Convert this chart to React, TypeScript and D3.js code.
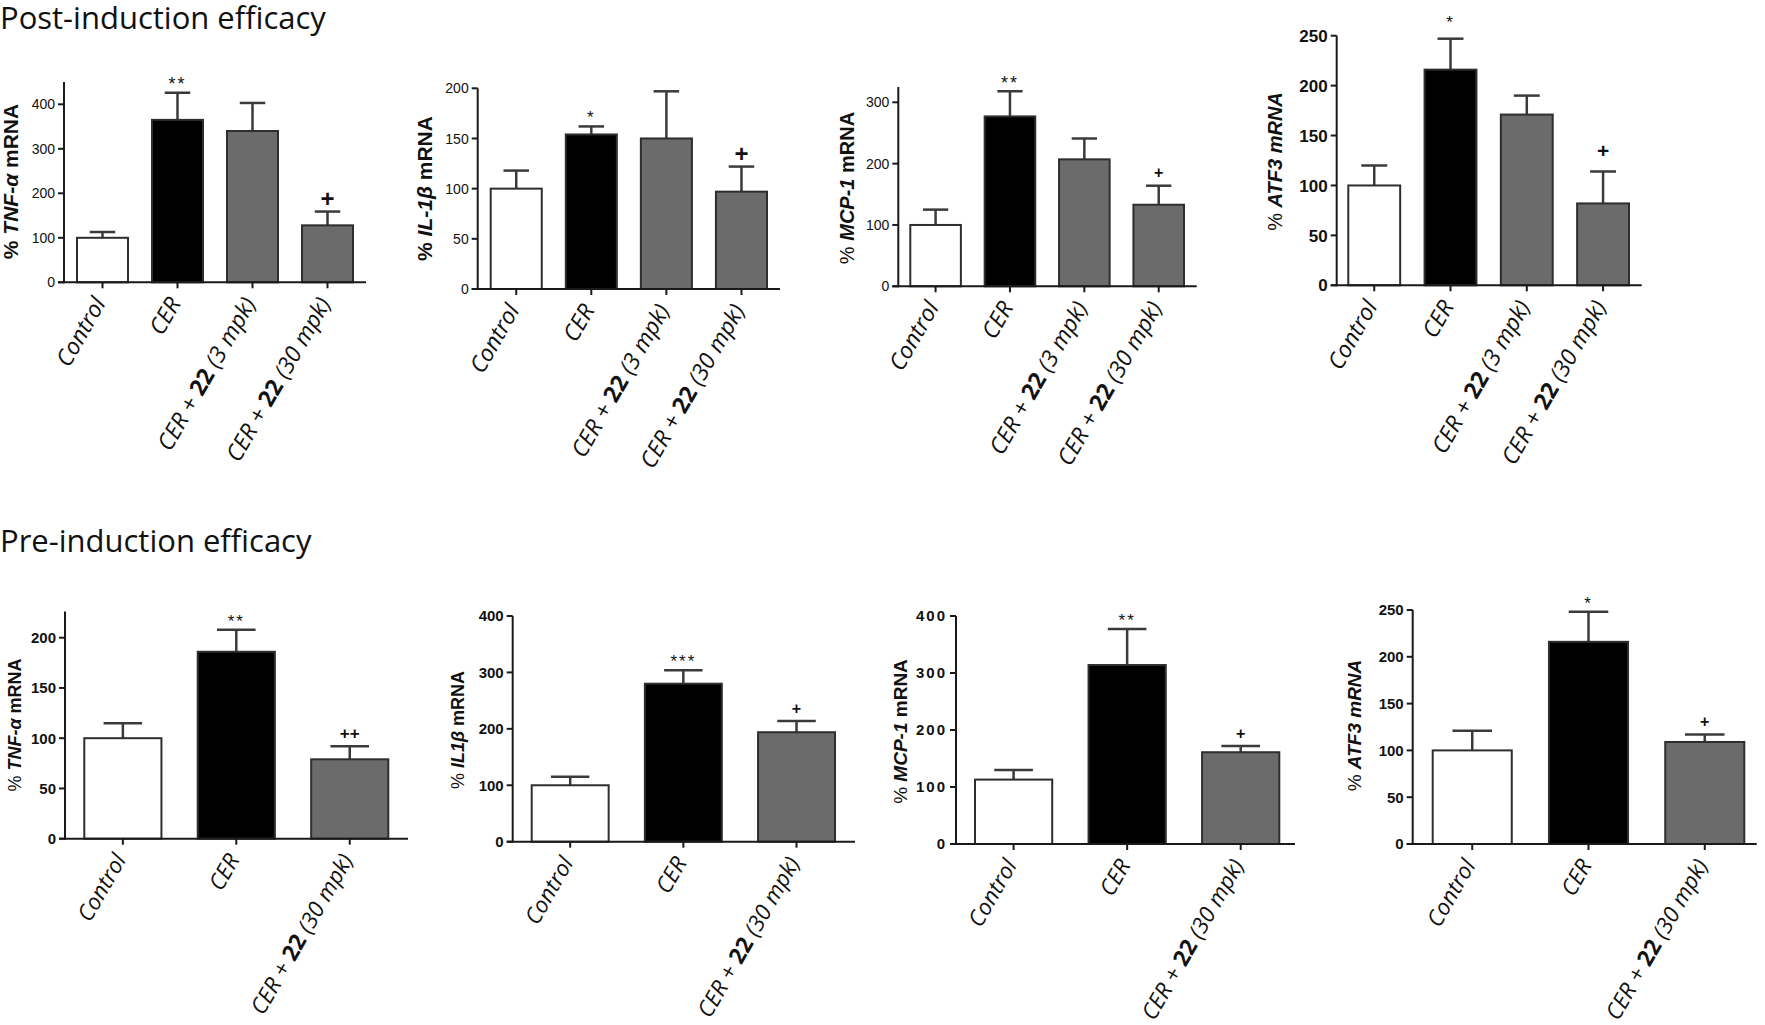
import React from "react";
import * as d3 from "d3";

// ---------- data ----------
const postGroups = ["Control", "CER", "CER + 22 (3 mpk)", "CER + 22 (30 mpk)"];
const preGroups = ["Control", "CER", "CER + 22 (30 mpk)"];

const postTnfMean = [100, 365, 340, 128];
const postTnfSem = [13, 61, 63, 31];
const postTnfSig = ["", "**", "", "+"];
const postTnfTicks = [0, 100, 200, 300, 400];

const postIl1bMean = [100, 154, 150, 97];
const postIl1bSem = [18, 8, 47, 25];
const postIl1bSig = ["", "*", "", "+"];
const postIl1bTicks = [0, 50, 100, 150, 200];

const postMcp1Mean = [100, 277, 207, 133];
const postMcp1Sem = [25, 41, 34, 31];
const postMcp1Sig = ["", "**", "", "+"];
const postMcp1Ticks = [0, 100, 200, 300];

const postAtf3Mean = [100, 216, 171, 82];
const postAtf3Sem = [20, 31, 19, 32];
const postAtf3Sig = ["", "*", "", "+"];
const postAtf3Ticks = [0, 50, 100, 150, 200, 250];

const preTnfMean = [100, 186, 79];
const preTnfSem = [15, 22, 13];
const preTnfSig = ["", "**", "++"];
const preTnfTicks = [0, 50, 100, 150, 200];

const preIl1bMean = [100, 280, 194];
const preIl1bSem = [15, 24, 20];
const preIl1bSig = ["", "***", "+"];
const preIl1bTicks = [0, 100, 200, 300, 400];

const preMcp1Mean = [113, 314, 161];
const preMcp1Sem = [17, 63, 11];
const preMcp1Sig = ["", "**", "+"];
const preMcp1Ticks = [0, 100, 200, 300, 400];

const preAtf3Mean = [100, 216, 109];
const preAtf3Sem = [21, 32, 8];
const preAtf3Sig = ["", "*", "+"];
const preAtf3Ticks = [0, 50, 100, 150, 200, 250];

const titles = ["Post-induction efficacy", "Pre-induction efficacy"];

type Seg = { t: string; b?: boolean; i?: boolean };
const lblTnfPost: Seg[] = [{ t: "% ", b: true }, { t: "TNF-α", b: true, i: true }, { t: " mRNA", b: true }];
const lblIl1bPost: Seg[] = [{ t: "% ", b: true }, { t: "IL-1β", b: true, i: true }, { t: " mRNA", b: true }];
const lblMcp1Post: Seg[] = [{ t: "%  " }, { t: "MCP-1", b: true, i: true }, { t: " mRNA", b: true }];
const lblAtf3Post: Seg[] = [{ t: "% " }, { t: "ATF3 mRNA", b: true, i: true }];
const lblTnfPre: Seg[] = [{ t: "%  " }, { t: "TNF-α", b: true, i: true }, { t: " mRNA", b: true }];
const lblIl1bPre: Seg[] = [{ t: "%  " }, { t: "IL1β", b: true, i: true }, { t: " mRNA", b: true }];
const lblMcp1Pre: Seg[] = [{ t: "%  " }, { t: "MCP-1", b: true, i: true }, { t: " mRNA", b: true }];
const lblAtf3Pre: Seg[] = [{ t: "% " }, { t: "ATF3 mRNA", b: true, i: true }];

// ---------- layout / style ----------
const fillsPost = ["#ffffff", "#000000", "#6b6b6b", "#6b6b6b"];
const fillsPre = ["#ffffff", "#000000", "#6b6b6b"];

const panels = [
  { groups: postGroups, mean: postTnfMean, sem: postTnfSem, sig: postTnfSig, ticks: postTnfTicks, label: lblTnfPost, fills: fillsPost,
    x0: 64, x1: 366, y0: 282.3, refV: 400, refY: 104.3, topV: 450, padL: 13, padR: 13, tickFs: 14, tickBold: false, tickLs: 0,
    labelCx: 10, labelCy: 181.5, labelFs: 21, plusFs: 24, starFs: 18, sigGap: 13, xlFs: 23 },
  { groups: postGroups, mean: postIl1bMean, sem: postIl1bSem, sig: postIl1bSig, ticks: postIl1bTicks, label: lblIl1bPost, fills: fillsPost,
    x0: 477.7, x1: 780, y0: 289, refV: 200, refY: 88.3, topV: 200, padL: 13, padR: 13, tickFs: 14, tickBold: false, tickLs: 0,
    labelCx: 424, labelCy: 188.5, labelFs: 21, plusFs: 24, starFs: 17, sigGap: 13, xlFs: 23 },
  { groups: postGroups, mean: postMcp1Mean, sem: postMcp1Sem, sig: postMcp1Sig, ticks: postMcp1Ticks, label: lblMcp1Post, fills: fillsPost,
    x0: 898.3, x1: 1196.7, y0: 286.3, refV: 300, refY: 102.3, topV: 325, padL: 12, padR: 12.7, tickFs: 14, tickBold: false, tickLs: 0,
    labelCx: 847, labelCy: 188, labelFs: 20, plusFs: 16, starFs: 18, sigGap: 13, xlFs: 23 },
  { groups: postGroups, mean: postAtf3Mean, sem: postAtf3Sem, sig: postAtf3Sig, ticks: postAtf3Ticks, label: lblAtf3Post, fills: fillsPost,
    x0: 1336.7, x1: 1641.7, y0: 285.3, refV: 250, refY: 35.7, topV: 250, padL: 11.6, padR: 12.7, tickFs: 17, tickBold: true, tickLs: 0,
    labelCx: 1275, labelCy: 161.5, labelFs: 20, plusFs: 21, starFs: 17, sigGap: 21, xlFs: 23 },
  { groups: preGroups, mean: preTnfMean, sem: preTnfSem, sig: preTnfSig, ticks: preTnfTicks, label: lblTnfPre, fills: fillsPre,
    x0: 65, x1: 408, y0: 838.7, refV: 200, refY: 637.7, topV: 226, padL: 19.3, padR: 19.7, tickFs: 15, tickBold: true, tickLs: 0,
    labelCx: 14.5, labelCy: 725, labelFs: 18, plusFs: 17, starFs: 17, sigGap: 13, xlFs: 22.5 },
  { groups: preGroups, mean: preIl1bMean, sem: preIl1bSem, sig: preIl1bSig, ticks: preIl1bTicks, label: lblIl1bPre, fills: fillsPre,
    x0: 512.7, x1: 855, y0: 841.7, refV: 400, refY: 616, topV: 400, padL: 19, padR: 20, tickFs: 15, tickBold: true, tickLs: 0,
    labelCx: 457.5, labelCy: 730, labelFs: 18, plusFs: 16, starFs: 17, sigGap: 13, xlFs: 22.5 },
  { groups: preGroups, mean: preMcp1Mean, sem: preMcp1Sem, sig: preMcp1Sig, ticks: preMcp1Ticks, label: lblMcp1Pre, fills: fillsPre,
    x0: 956, x1: 1295, y0: 844, refV: 400, refY: 616, topV: 400, padL: 19, padR: 15.7, tickFs: 15, tickBold: true, tickLs: 2,
    labelCx: 900.5, labelCy: 731.5, labelFs: 19, plusFs: 16, starFs: 17, sigGap: 13, xlFs: 22.5 },
  { groups: preGroups, mean: preAtf3Mean, sem: preAtf3Sem, sig: preAtf3Sig, ticks: preAtf3Ticks, label: lblAtf3Pre, fills: fillsPre,
    x0: 1412.7, x1: 1756.7, y0: 844, refV: 250, refY: 610, topV: 250, padL: 20, padR: 12.4, tickFs: 15, tickBold: true, tickLs: 0,
    labelCx: 1354, labelCy: 725.5, labelFs: 19, plusFs: 16, starFs: 17, sigGap: 13, xlFs: 22.5 },
];

const AXIS = "#1a1a1a";
const ERR = "#3a3a3a";
const SANS = "'Liberation Sans', Arial, sans-serif";
const LABELFONT = "'Open Sans', sans-serif";

function XLabel({ text, x, y, fs }: { text: string; x: number; y: number; fs: number }) {
  const idx = text.indexOf("22");
  const parts: Seg[] =
    idx >= 0
      ? [{ t: text.slice(0, idx), i: true }, { t: "22", b: true }, { t: text.slice(idx + 2), i: true }]
      : [{ t: text, i: true }];
  return (
    <text transform={`translate(${x},${y}) rotate(-60)`} textAnchor="end" fontFamily={LABELFONT} fontSize={fs} fill="#111">
      {parts.map((p, k) => (
        <tspan key={k} fontStyle={p.i ? "italic" : "normal"} fontWeight={p.b ? 700 : 400}>
          {p.t}
        </tspan>
      ))}
    </text>
  );
}

function Panel({ p }: { p: (typeof panels)[number] }) {
  const y = d3.scaleLinear().domain([0, p.refV]).range([p.y0, p.refY]);
  const x = d3
    .scaleBand<string>()
    .domain(p.groups)
    .range([p.x0 + p.padL, p.x1 - p.padR])
    .paddingInner(0.32)
    .paddingOuter(0);
  const bw = x.bandwidth();
  return (
    <g>
      {p.groups.map((g, i) => {
        const cx = (x(g) as number) + bw / 2;
        const top = y(p.mean[i]);
        const et = y(p.mean[i] + p.sem[i]);
        const sig = p.sig[i];
        const isStar = sig.includes("*");
        const fs = isStar ? p.starFs : p.plusFs;
        const center = et - p.sigGap;
        const base = center + (isStar ? 0.58 : 0.36) * fs;
        return (
          <g key={g}>
            <line x1={cx} x2={cx} y1={top} y2={et} stroke={ERR} strokeWidth={2.5} />
            <line x1={cx - bw / 4} x2={cx + bw / 4} y1={et} y2={et} stroke={ERR} strokeWidth={2.5} />
            <rect x={x(g)} y={top} width={bw} height={p.y0 - top} fill={p.fills[i]} stroke="#2e2e2e" strokeWidth={2} />
            {sig && (
              <text x={cx} y={base} textAnchor="middle" fontFamily={SANS} fontSize={fs} fontWeight={isStar ? 400 : 700}
                letterSpacing={isStar ? 2 : 0} fill="#111">
                {sig}
              </text>
            )}
            <line x1={cx} x2={cx} y1={p.y0} y2={p.y0 + 6} stroke={AXIS} strokeWidth={2} />
          </g>
        );
      })}
      <line x1={p.x0} x2={p.x0} y1={p.y0 + 1} y2={y(p.topV)} stroke={AXIS} strokeWidth={2} />
      <line x1={p.x0 - 6} x2={p.x1} y1={p.y0} y2={p.y0} stroke={AXIS} strokeWidth={2} />
      {p.ticks.map((t) => (
        <g key={t}>
          <line x1={p.x0 - 6} x2={p.x0} y1={y(t)} y2={y(t)} stroke={AXIS} strokeWidth={2} />
          <text x={p.x0 - 9} y={y(t)} dy="0.36em" textAnchor="end" fontFamily={SANS} fontSize={p.tickFs}
            fontWeight={p.tickBold ? 700 : 400} letterSpacing={p.tickLs} fill="#111">
            {t}
          </text>
        </g>
      ))}
      <text transform={`translate(${p.labelCx + 0.36 * p.labelFs},${p.labelCy}) rotate(-90)`} textAnchor="middle"
        fontFamily={SANS} fontSize={p.labelFs} fill="#111">
        {p.label.map((s, k) => (
          <tspan key={k} fontWeight={s.b ? 700 : 400} fontStyle={s.i ? "italic" : "normal"}>
            {s.t}
          </tspan>
        ))}
      </text>
      {p.groups.map((g) => (
        <XLabel key={g} text={g} x={(x(g) as number) + bw / 2 + 4} y={p.y0 + 21} fs={p.xlFs} />
      ))}
    </g>
  );
}

export default function App() {
  return (
    <svg width={1765} height={1025} style={{ position: "absolute", left: 0, top: 0, background: "#fff" }}>
      <rect width={1765} height={1025} fill="#fff" />
      <text x={0} y={29} fontFamily={LABELFONT} fontSize={31} fill="#111">{titles[0]}</text>
      <text x={0} y={552} fontFamily={LABELFONT} fontSize={31} fill="#111">{titles[1]}</text>
      {panels.map((p, i) => (
        <Panel key={i} p={p} />
      ))}
    </svg>
  );
}
